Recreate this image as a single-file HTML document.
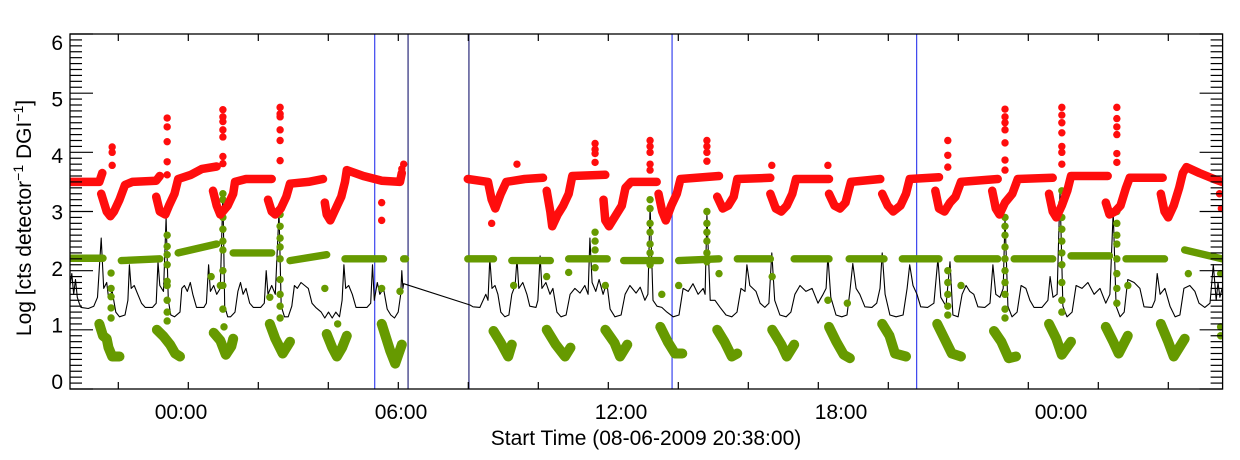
<!DOCTYPE html>
<html><head><meta charset="utf-8"><style>
html,body{margin:0;padding:0;background:#fff;}
svg{display:block;font-family:"Liberation Sans",sans-serif;}
</style></head><body>
<svg id="chart" width="1240" height="460" viewBox="0 0 1240 460" xmlns="http://www.w3.org/2000/svg">
<rect width="1240" height="460" fill="#fff"/>
<g id="marks"></g>
<g id="axes"></g>
</svg>
<script>
// ---- data (time in hours relative to 00:00 of day 1; values = log counts) ----
const xTickLabels = ["00:00","06:00","12:00","18:00","00:00"];
const xTickHours = [0,6,12,18,24];
const yTickLabels = ["0","1","2","3","4","5","6"];
const markerHours = [5.31,6.22,7.88,13.42,20.09];

// red series: tracks (connected dense dot runs) and isolated spike dots
const redTrackT = [
 [-3.0,-2.2,-2.12],
 [-2.15,-2.0,-1.9,-1.8,-1.65,-1.5,-1.3,-0.65,-0.55],
 [-0.65,-0.55,-0.4,-0.3,-0.15,-0.05,0.3,0.6,1.0],
 [0.9,1.0,1.1,1.3,1.45,1.5,1.8,2.5],
 [2.4,2.5,2.6,2.75,2.9,3.0,3.5,3.9],
 [3.95,4.0,4.1,4.25,4.4,4.5,4.55,5.0,5.5,6.0,6.05],
 [7.85,8.4,8.5,8.6,8.75,8.9,9.4,9.9],
 [10.0,10.1,10.15,10.3,10.45,10.6,10.7,11.6],
 [11.55,11.6,11.7,11.9,12.05,12.15,12.3,13.0],
 [13.05,13.15,13.25,13.4,13.55,13.65,14.7],
 [14.65,14.8,14.95,15.1,15.2,16.1],
 [16.1,16.25,16.4,16.55,16.7,16.8,17.7],
 [17.7,17.85,18.0,18.15,18.3,19.1],
 [19.15,19.3,19.45,19.65,19.8,19.9,20.7],
 [20.6,20.7,20.85,21.0,21.15,21.3,22.3],
 [22.15,22.25,22.35,22.5,22.7,22.85,23.8],
 [23.7,23.8,23.9,24.05,24.2,24.3,25.3],
 [25.25,25.35,25.5,25.65,25.8,25.9,26.8],
 [26.75,26.85,26.95,27.1,27.25,27.35,27.45,27.8,28.2,28.42]
];
const redTrackV = [
 [3.50,3.50,3.65],
 [3.3,3.0,2.92,3.0,3.2,3.45,3.5,3.52,3.6],
 [3.25,3.0,2.95,3.1,3.3,3.55,3.62,3.72,3.76],
 [3.35,3.1,2.95,3.1,3.3,3.5,3.55,3.55],
 [3.2,3.0,2.95,3.05,3.25,3.47,3.5,3.55],
 [3.15,2.95,2.85,3.05,3.25,3.5,3.7,3.6,3.52,3.5,3.65],
 [3.55,3.5,3.2,3.05,3.3,3.5,3.55,3.57],
 [3.35,3.0,2.75,2.95,3.1,3.3,3.6,3.62],
 [3.2,2.85,2.75,2.95,3.1,3.4,3.5,3.5],
 [3.3,3.0,2.85,3.1,3.3,3.55,3.6],
 [3.25,3.05,3.1,3.25,3.55,3.57],
 [3.3,3.05,3.0,3.1,3.3,3.55,3.55],
 [3.3,3.1,3.05,3.15,3.5,3.55],
 [3.3,3.1,3.0,3.1,3.3,3.55,3.58],
 [3.35,3.05,3.0,3.15,3.25,3.5,3.55],
 [3.35,3.05,2.95,3.15,3.3,3.55,3.57],
 [3.3,3.0,2.9,3.1,3.35,3.6,3.6],
 [3.15,2.95,3.0,3.1,3.4,3.57,3.57],
 [3.3,3.0,2.9,3.1,3.4,3.65,3.75,3.65,3.55,3.5]
];
const redDotT = [-1.85,-1.85,-1.85,-0.35,-0.35,-0.35,-0.35,-0.35,1.17,1.17,1.17,1.17,1.17,1.17,1.17,2.73,2.73,2.73,2.73,2.73,2.73,6.1,6.05,5.5,5.5,8.5,9.19,11.32,11.32,11.32,11.32,12.82,12.82,12.82,12.82,12.82,14.37,14.37,14.37,14.37,16.14,17.67,20.94,20.94,20.94,22.5,22.5,22.5,22.5,22.5,22.5,22.5,24.05,24.05,24.05,24.05,24.05,24.05,24.05,25.55,25.55,25.55,25.55,25.55,25.55,28.4,28.35];
const redDotV = [4.09,4.0,3.78,4.58,4.43,4.18,3.84,3.62,4.72,4.6,4.52,4.38,4.26,3.93,3.81,4.76,4.65,4.6,4.38,4.2,3.86,3.8,3.72,3.15,2.85,2.8,3.8,4.15,4.05,3.98,3.83,4.2,4.1,4.0,3.8,3.7,4.2,4.1,4.0,3.85,3.78,3.78,4.2,3.95,3.75,4.73,4.6,4.5,4.38,4.16,3.87,3.7,4.76,4.63,4.5,4.33,4.1,4.0,3.8,4.76,4.57,4.43,4.3,3.98,3.83,3.05,3.3];

// green series: baseline runs, low "V" clusters, isolated dots
const greenRunStart = [-3.0,-1.6,-0.05,1.45,3.0,4.5,6.1,7.85,9.05,10.6,12.1,13.6,15.2,16.75,18.25,19.7,21.2,22.75,24.3,25.8,27.4];
const greenRunEnd   = [-2.1,-0.55,1.0,2.5,4.0,5.55,6.15,8.55,10.1,11.65,13.1,14.7,16.1,17.7,19.2,20.7,22.3,23.8,25.35,26.85,28.42];
const greenRunV0    = [2.21,2.17,2.3,2.3,2.17,2.2,2.2,2.2,2.17,2.2,2.17,2.17,2.2,2.2,2.2,2.2,2.2,2.2,2.25,2.2,2.35];
const greenRunV1    = [2.21,2.2,2.45,2.3,2.27,2.2,2.2,2.2,2.17,2.2,2.17,2.2,2.2,2.2,2.2,2.2,2.2,2.2,2.25,2.2,2.2];
const greenVT = [
 [-2.2,-2.1,-2.0,-1.95,-1.85,-1.65],
 [-0.63,-0.45,-0.27,-0.13,0.0],
 [0.92,1.1,1.25,1.4,1.45],
 [2.45,2.6,2.8,3.0],
 [4.0,4.15,4.28,4.42,4.55],
 [5.5,5.73,5.87,6.05],
 [8.55,8.75,8.95,9.05],
 [10.0,10.25,10.5,10.65],
 [11.6,11.85,12.0,12.2],
 [13.1,13.3,13.5,13.7],
 [14.65,14.85,15.05,15.2],
 [16.15,16.4,16.55,16.75],
 [17.7,17.9,18.1,18.27],
 [19.15,19.35,19.5,19.8],
 [20.65,20.85,21.05,21.3],
 [22.2,22.4,22.6,22.8],
 [23.7,23.9,24.05,24.3],
 [25.25,25.45,25.6,25.85],
 [26.75,26.95,27.1,27.4]
];
const greenVV = [
 [1.1,0.9,0.85,0.7,0.55,0.55],
 [1.0,0.89,0.75,0.6,0.55],
 [0.95,0.82,0.58,0.72,0.85],
 [1.1,0.85,0.6,0.8],
 [0.93,0.7,0.55,0.7,0.9],
 [1.1,0.65,0.43,0.75],
 [0.98,0.78,0.55,0.75],
 [1.0,0.75,0.55,0.7],
 [1.0,0.78,0.55,0.75],
 [1.05,0.8,0.6,0.6],
 [1.0,0.8,0.55,0.6],
 [1.0,0.75,0.55,0.75],
 [1.05,0.8,0.58,0.52],
 [1.1,0.9,0.6,0.55],
 [1.1,0.85,0.6,0.55],
 [0.98,0.8,0.52,0.55],
 [1.1,0.85,0.58,0.8],
 [1.05,0.8,0.6,0.9],
 [1.1,0.8,0.55,0.85]
];
const greenDotT = [-1.88,-1.88,-1.88,-1.88,-1.88,-0.35,-0.35,-0.35,-0.35,-0.35,-0.35,-0.35,-0.35,-0.35,1.17,1.17,1.17,1.17,1.17,1.17,1.17,1.17,1.17,0.85,1.1,1.2,2.73,2.73,2.73,2.73,2.73,2.73,2.73,2.73,2.73,2.45,3.95,4.3,5.5,6.0,9.1,10.0,10.6,11.32,11.32,11.32,11.32,11.32,11.6,12.82,12.82,12.82,12.82,12.82,12.82,12.82,13.14,13.6,14.37,14.37,14.37,14.37,14.37,14.37,14.7,16.15,17.67,18.2,20.94,20.94,20.94,20.94,20.94,21.3,22.5,22.5,22.5,22.5,22.5,22.5,22.5,22.5,22.5,22.5,24.05,24.05,24.05,24.05,24.05,24.05,24.05,24.05,24.05,24.05,25.55,25.55,25.55,25.55,25.55,25.55,25.55,25.55,25.85,27.5,28.38,28.38,28.38];
const greenDotV = [1.96,1.7,1.56,1.37,1.2,2.6,2.41,2.27,2.1,1.82,1.75,1.5,1.3,1.15,3.3,3.2,2.9,2.7,2.5,2.35,2.0,1.75,1.35,1.9,1.75,1.05,2.95,2.75,2.55,2.4,2.2,1.85,1.6,1.4,1.2,1.55,1.7,1.1,1.7,1.65,1.75,1.9,1.97,2.65,2.5,2.35,2.2,2.05,1.75,3.2,3.05,2.8,2.65,2.45,2.3,2.1,1.6,1.75,3.0,2.8,2.65,2.5,2.3,2.15,1.95,1.9,1.5,1.45,2.0,1.8,1.6,1.4,1.25,1.75,2.9,2.75,2.6,2.4,2.2,2.0,1.8,1.6,1.35,1.2,3.35,3.15,2.9,2.7,2.5,2.3,2.1,1.8,1.5,1.3,3.0,2.8,2.6,2.45,2.2,1.95,1.7,1.45,1.75,1.95,1.95,1.05,0.9];

// black line series
const blackT = [-3.0,-2.95,-2.9,-2.85,-2.8,-2.75,-2.7,-2.5,-2.35,-2.25,-2.15,-2.08,-2.0,-1.95,-1.85,-1.75,
 -1.65,-1.5,-1.42,-1.38,-1.33,-1.25,-1.15,-1.05,-0.95,-0.75,-0.65,-0.6,-0.55,-0.45,-0.38,-0.32,-0.25,
 -0.15,0.0,0.05,0.12,0.2,0.28,0.35,0.45,0.65,0.72,0.78,0.83,0.92,1.0,1.1,1.17,1.22,1.3,
 1.38,1.5,1.58,1.65,1.72,1.8,1.9,2.0,2.2,2.3,2.35,2.4,2.5,2.6,2.7,2.76,2.85,
 2.95,3.05,3.12,3.2,3.3,3.4,3.5,3.6,3.7,3.85,3.95,4.05,4.15,4.25,4.35,4.42,4.47,4.52,4.6,4.7,4.8,5.1,5.2,5.25,5.3,5.38,5.45,5.55,5.65,5.75,5.85,5.95,6.02,6.05,6.08,6.1,
 7.91,7.99,8.18,8.34,8.4,8.45,8.51,8.59,8.67,8.75,8.86,8.97,9.05,9.14,9.19,9.24,9.35,9.46,9.54,9.71,9.76,9.82,9.87,9.98,10.09,10.17,10.28,10.39,10.53,10.64,10.77,10.91,11.04,11.13,11.18,11.24,11.34,11.43,11.54,11.64,11.73,11.86,12.03,12.14,12.27,12.44,12.55,12.68,12.76,12.82,12.9,13.01,13.14,13.28,13.45,13.61,13.72,13.86,13.99,14.13,14.27,14.32,14.37,14.46,14.59,14.73,14.89,15.05,15.19,15.3,15.41,15.46,15.54,15.71,15.82,15.95,16.06,16.14,16.22,16.36,16.53,16.66,16.77,16.91,17.07,17.24,17.4,17.54,17.62,17.67,17.75,17.89,18.05,18.19,18.27,18.35,18.44,18.54,18.68,18.87,19.0,19.09,19.15,19.23,19.36,19.53,19.72,19.83,19.9,19.99,20.1,20.2,20.39,20.56,20.67,20.75,20.89,21.0,21.08,21.22,21.33,21.44,21.54,21.65,21.76,21.95,22.09,22.17,22.25,22.36,22.45,22.5,22.58,22.69,22.83,22.94,23.07,23.18,23.29,23.51,23.67,23.73,23.81,23.92,24.0,24.08,24.19,24.33,24.44,24.6,24.76,24.93,25.09,25.25,25.36,25.45,25.53,25.64,25.75,25.85,26.02,26.18,26.29,26.51,26.59,26.65,26.73,26.86,27.0,27.14,27.27,27.38,27.54,27.68,27.79,27.95,28.09,28.18,28.26,28.31,28.36,28.42];
const blackV = [1.75,1.95,1.6,1.85,1.55,1.45,1.38,1.36,1.4,1.55,2.55,1.7,1.8,1.55,1.65,1.3,
 1.22,1.25,1.5,2.1,1.7,1.75,1.6,1.45,1.38,1.38,1.45,2.15,1.75,1.65,2.9,1.5,1.25,
 1.22,1.3,1.7,1.75,1.65,1.8,1.6,1.38,1.38,1.45,2.1,1.65,1.75,1.6,1.7,3.3,1.4,1.22,
 1.22,1.3,1.65,1.8,1.6,1.7,1.45,1.38,1.38,1.45,2.0,1.6,1.75,1.6,3.0,1.4,1.22,
 1.22,1.4,1.75,1.7,1.8,1.75,1.7,1.45,1.38,1.3,1.2,1.3,1.2,1.3,1.22,1.5,2.1,1.7,1.75,1.6,1.38,1.38,1.45,2.1,1.5,1.8,1.6,1.7,1.35,1.25,1.2,1.3,1.6,2.0,1.7,1.78,
 1.42,1.39,1.38,1.6,1.5,2.2,1.7,1.75,1.6,1.3,1.22,1.25,1.6,1.75,2.2,1.7,1.8,1.6,1.4,1.38,1.5,2.25,1.7,1.8,1.6,1.7,1.3,1.22,1.25,1.6,1.7,1.62,1.75,1.6,2.55,1.8,1.65,1.85,1.6,1.8,1.35,1.22,1.25,1.6,1.75,1.62,1.72,1.5,1.6,3.1,1.5,1.4,1.38,1.3,1.22,1.25,1.7,1.65,1.78,1.6,1.7,1.6,2.95,1.5,1.5,1.38,1.25,1.22,1.3,1.7,1.65,2.1,1.75,1.65,1.45,1.38,1.45,2.3,1.5,1.25,1.22,1.3,1.6,1.75,1.65,1.7,1.45,1.6,1.7,2.25,1.55,1.25,1.22,1.25,1.65,2.12,1.7,1.6,1.39,1.38,1.45,1.7,2.3,1.6,1.25,1.22,1.25,1.7,2.1,1.75,1.6,1.39,1.38,1.45,2.2,1.55,1.4,2.15,1.25,1.22,1.6,1.75,1.65,1.6,1.39,1.38,1.45,2.1,1.6,1.55,1.7,2.9,1.4,1.22,1.3,1.75,1.7,1.5,1.38,1.38,1.5,1.9,1.55,1.6,3.35,1.4,1.22,1.3,1.75,1.7,1.8,1.6,1.7,1.45,1.6,3.0,1.4,1.22,1.3,1.85,1.8,1.7,1.39,1.38,1.5,1.95,1.6,1.7,1.4,1.22,1.25,1.7,1.75,1.65,1.45,1.38,1.45,2.1,1.5,1.8,1.55,1.7];

// ---- scales ----
const X0 = 70, X1 = 1222.6, Y0 = 34, Y1 = 389;
function xs(h){ return 180 + h*36.667; }
function ys(v){ return Y1 - v*(Y1-Y0)/6; }

const NS = "http://www.w3.org/2000/svg";
const marks = document.getElementById('marks');
const axes = document.getElementById('axes');
function mk(tag, attrs, parent){
  const e = document.createElementNS(NS, tag);
  for (const k in attrs) e.setAttribute(k, attrs[k]);
  parent.appendChild(e);
  return e;
}
const RED = "#ff0d0d", GREEN = "#669a00", R = 3.7;

const defs = mk('defs', {}, marks);
const cp = mk('clipPath', {id:'clip'}, defs);
mk('rect', {x:X0, y:Y0, width:X1-X0, height:Y1-Y0}, cp);
const plot = mk('g', {'clip-path':'url(#clip)'}, marks);

markerHours.forEach((h,i)=>{
  const l = mk('line', {x1:xs(h), x2:xs(h), y1:Y0, y2:Y1, stroke:(i===1||i===2)?'#2a2a7a':'#3a44ee', 'stroke-width':1.2}, plot);
  
  
});

let d = '';
for (let i=0;i<blackT.length;i++){ d += (i?'L':'M') + xs(blackT[i]).toFixed(1) + ' ' + ys(blackV[i]).toFixed(1); }
const bl = mk('path', {d:d, fill:'none', stroke:'#000', 'stroke-width':1.1, 'stroke-linejoin':'round'}, plot);



const gG = mk('g', {}, plot);


for (let i=0;i<greenRunStart.length;i++){
  const l = mk('line', {x1:xs(greenRunStart[i]), y1:ys(greenRunV0[i]), x2:xs(greenRunEnd[i]), y2:ys(greenRunV1[i]), stroke:GREEN, 'stroke-width':2*R, 'stroke-linecap':'round'}, gG);
  
  
}
for (let i=0;i<greenVT.length;i++){
  let p=''; greenVT[i].forEach((t,j)=>{ p += (j?'L':'M') + xs(t).toFixed(1)+' '+ys(greenVV[i][j]).toFixed(1); });
  const e = mk('path', {d:p, fill:'none', stroke:GREEN, 'stroke-width':10, 'stroke-linecap':'round', 'stroke-linejoin':'round'}, gG);
  
  
}
for (let i=0;i<greenDotT.length;i++){
  const c = mk('circle', {cx:xs(greenDotT[i]), cy:ys(greenDotV[i]), r:R, fill:GREEN}, gG);
  
  
}

const rG = mk('g', {}, plot);


for (let i=0;i<redTrackT.length;i++){
  let p=''; redTrackT[i].forEach((t,j)=>{ p += (j?'L':'M') + xs(t).toFixed(1)+' '+ys(redTrackV[i][j]).toFixed(1); });
  const e = mk('path', {d:p, fill:'none', stroke:RED, 'stroke-width':8.5, 'stroke-linecap':'round', 'stroke-linejoin':'round'}, rG);
  
  
}
for (let i=0;i<redDotT.length;i++){
  const c = mk('circle', {cx:xs(redDotT[i]), cy:ys(redDotV[i]), r:R, fill:RED}, rG);
  
  
}

const fr = mk('rect', {x:X0, y:Y0, width:X1-X0, height:Y1-Y0, fill:'none', stroke:'#000', 'stroke-width':1.3}, axes);



for (let k=0;k<=60;k++){
  const v = k/10, y = ys(v), len = (k%10===0)?23:12;
  mk('line', {x1:X0, x2:X0+len, y1:y, y2:y, stroke:'#000', 'stroke-width':1.2}, axes);
  mk('line', {x1:X1, x2:X1-len, y1:y, y2:y, stroke:'#000', 'stroke-width':1.2}, axes);
}
yTickLabels.forEach((s,i)=>{
  const t = mk('text', {x:63, y:(382 - i*56.5 + 7), 'text-anchor':'end', 'font-size':21, fill:'#000'}, axes);
  t.textContent = s;
  
  
});
for (let x=118.3; x<X1; x+=70){
  mk('line', {x1:x, x2:x, y1:Y1, y2:Y1-7, stroke:'#000', 'stroke-width':1.2}, axes);
  mk('line', {x1:x, x2:x, y1:Y0, y2:Y0+7, stroke:'#000', 'stroke-width':1.2}, axes);
}
xTickLabels.forEach((s,i)=>{
  const t = mk('text', {x:xs(xTickHours[i])+1, y:419, 'text-anchor':'middle', 'font-size':21, fill:'#000'}, axes);
  t.textContent = s;
  
  
});
const xt = mk('text', {x:646, y:445, 'text-anchor':'middle', 'font-size':21, fill:'#000'}, axes);
xt.textContent = 'Start Time (08-06-2009 20:38:00)';



const yt = mk('text', {x:0, y:0, 'text-anchor':'middle', 'font-size':21, fill:'#000', transform:'translate(31,218) rotate(-90)'}, axes);


yt.innerHTML = 'Log [cts detector<tspan dy="-8" font-size="14">−1</tspan><tspan dy="8"> DGI</tspan><tspan dy="-8" font-size="14">−1</tspan><tspan dy="8">]</tspan>';
</script>
</body></html>
